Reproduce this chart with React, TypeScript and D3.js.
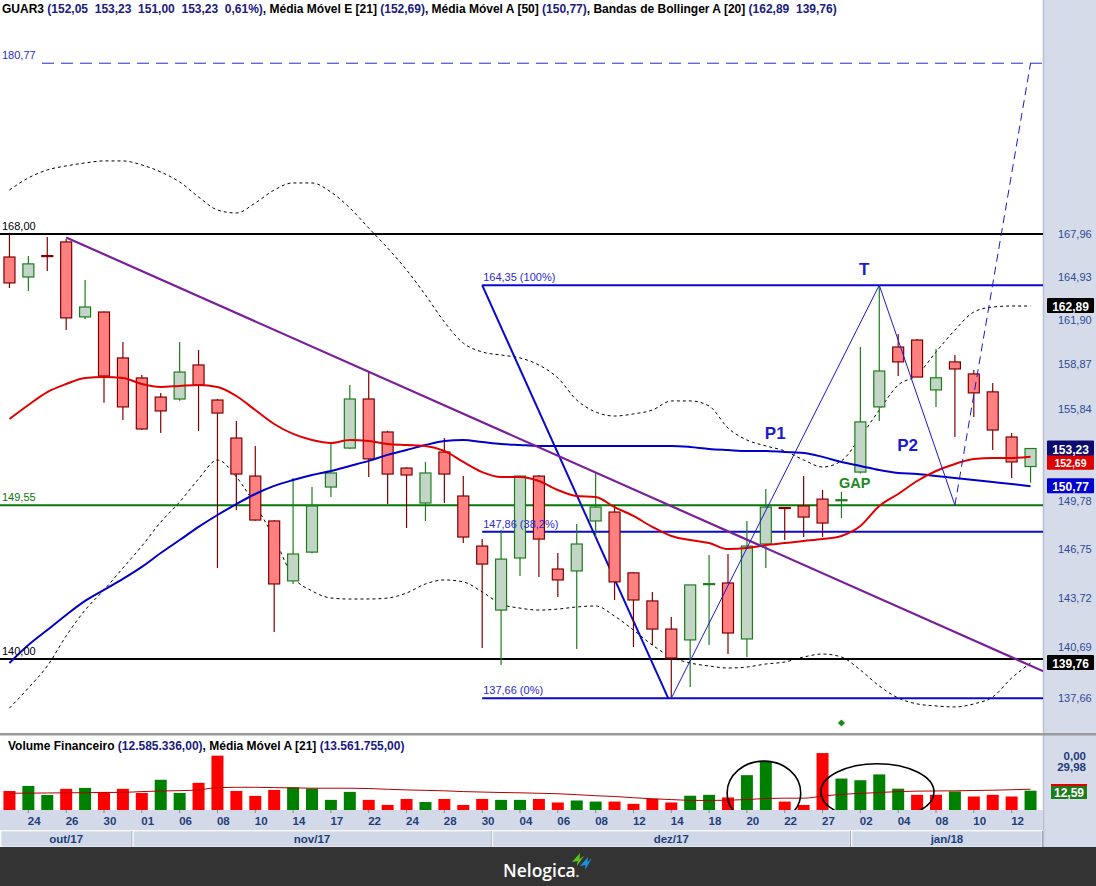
import React from 'react';
import * as d3 from 'd3';

// ---------------- DATA ----------------
const dates = [
  '23/10','24/10','25/10','26/10','27/10','30/10','31/10',
  '01/11','03/11','06/11','07/11','08/11','09/11','10/11','13/11','14/11','16/11','17/11','21/11','22/11','23/11','24/11','27/11','28/11','29/11','30/11',
  '01/12','04/12','05/12','06/12','07/12','08/12','11/12','12/12','13/12','14/12','15/12','18/12','19/12','20/12','21/12','22/12','26/12','27/12','28/12',
  '02/01','03/01','04/01','05/01','08/01','09/01','10/01','11/01','12/01','15/01'
];
const months = ['out/17', 'nov/17', 'dez/17', 'jan/18'];

const open = [166.35,164.93,166.45,167.43,162.13,162.47,159.30,157.94,156.65,156.52,158.82,156.45,153.92,151.43,148.54,144.77,146.57,150.72,153.26,156.52,154.32,151.95,149.69,153.00,150.14,146.95,142.97,146.20,151.43,145.51,145.39,148.54,149.11,145.27,143.53,141.81,141.15,144.55,144.64,141.21,147.08,149.40,149.50,149.94,149.85,151.69,155.99,160.05,160.53,157.13,159.03,158.21,157.00,153.99,152.05];
const high = [167.93,166.42,167.78,167.64,164.72,162.50,160.39,158.14,156.93,160.39,159.85,156.52,155.05,153.40,148.60,151.30,150.72,153.59,157.46,158.34,154.40,152.00,152.35,153.92,151.43,147.39,147.97,151.43,151.50,146.51,148.35,151.69,149.56,145.30,144.09,142.54,144.52,146.38,146.45,148.54,150.59,149.40,151.43,150.53,150.40,160.05,164.35,160.94,160.60,159.92,159.50,158.48,157.60,154.25,153.23];
const low = [164.15,163.94,165.36,161.22,161.99,156.26,155.12,154.45,154.25,156.40,154.39,145.57,149.24,148.55,141.63,144.58,146.50,150.07,153.20,151.37,149.62,148.09,148.54,149.69,147.14,140.66,139.64,145.08,145.02,143.78,140.60,147.52,143.59,140.72,140.84,137.74,138.33,140.84,140.30,140.12,145.57,147.33,147.52,147.52,148.73,151.60,155.05,158.07,158.00,155.99,153.99,155.32,153.13,151.30,151.00];
const close = [164.51,165.86,166.42,162.06,162.82,158.07,155.99,154.52,155.72,158.34,157.46,155.58,151.56,148.60,144.58,146.45,149.50,151.63,156.52,152.55,151.56,151.50,151.63,151.56,147.52,145.82,146.13,151.43,147.39,144.83,147.08,149.43,144.71,143.59,141.81,140.06,144.52,144.60,141.57,146.95,149.43,149.37,148.79,148.41,149.90,154.99,158.41,159.03,158.00,157.95,158.55,156.93,154.45,152.35,153.23];

const ema21 = [155.18,156.12,156.99,157.53,157.94,158.00,157.94,157.53,157.33,157.40,157.46,157.33,156.72,155.78,154.85,154.19,153.79,153.59,153.79,153.72,153.53,153.46,153.40,153.07,152.35,151.69,151.37,151.37,151.11,150.53,150.14,150.07,149.43,148.86,148.16,147.59,147.33,147.14,146.76,146.83,147.01,147.14,147.27,147.39,147.59,148.22,149.50,150.27,151.11,151.76,152.22,152.55,152.61,152.61,152.69];
const sma50 = [139.76,140.84,141.75,142.67,143.53,144.21,144.89,145.64,146.51,147.33,148.16,148.92,149.62,150.27,150.79,151.17,151.50,151.76,152.09,152.42,152.81,153.13,153.46,153.72,153.79,153.66,153.53,153.46,153.40,153.40,153.40,153.40,153.40,153.40,153.40,153.40,153.33,153.20,153.13,153.07,153.07,153.00,152.94,152.68,152.35,152.09,151.82,151.63,151.56,151.43,151.30,151.17,151.04,150.91,150.77];
const bbUpper = [171.20,172.09,172.68,172.98,173.20,173.35,173.35,173.05,172.53,171.79,170.69,169.74,169.52,170.25,171.20,171.72,171.72,171.05,169.89,168.43,166.99,165.43,163.66,161.78,160.32,159.71,159.50,159.30,158.82,157.94,156.45,155.65,155.38,155.52,155.78,156.39,156.39,156.05,154.58,153.79,153.40,153.07,152.48,152.02,152.42,153.99,155.78,157.46,158.14,159.71,161.22,162.47,162.82,162.89,162.89];
const bbLower = [137.08,138.27,139.58,141.39,142.97,144.21,145.57,146.95,148.47,149.75,151.24,152.48,151.37,149.56,147.46,145.02,144.15,143.71,143.65,143.65,143.71,144.02,144.58,144.83,144.71,144.09,143.34,143.09,142.97,143.03,143.16,143.22,142.60,141.75,140.84,140.12,139.76,139.58,139.46,139.52,139.70,139.82,140.12,140.30,140.12,139.34,138.39,137.68,137.33,137.21,137.15,137.33,137.74,138.86,139.76];

// volume in millions (R$)
const volume = [12.4,15.7,9.8,13.8,14.4,11.8,13.8,11.1,19.7,11.1,17.7,35.4,12.4,9.2,13.1,14.8,14.0,6.6,11.8,6.6,3.3,7.2,5.2,7.2,3.3,7.2,6.6,6.6,7.2,4.9,6.2,5.5,5.5,4.0,7.3,4.9,9.3,9.9,8.2,22.7,32.0,5.5,3.3,37.1,20.5,19.4,23.2,13.9,9.9,9.9,12.1,8.8,9.9,8.8,12.59];
const volumeMA21 = [10.9,11.0,11.1,11.2,11.3,11.4,11.5,12.0,12.4,12.6,13.1,14.6,14.8,14.8,14.6,14.4,14.2,14.2,14.2,14.0,13.5,13.1,12.8,12.5,12.0,11.7,11.4,11.2,10.9,10.6,10.0,9.3,8.8,8.0,7.3,6.8,6.3,6.2,6.4,6.8,7.5,7.7,7.7,9.0,10.2,10.8,11.4,12.0,12.3,12.4,12.5,12.7,12.9,13.2,13.56];

const priceTicks = [137.66,140.69,143.72,146.75,149.78,155.84,158.87,161.90,164.93,167.96];

const levelValues = [168.0, 149.55, 140.0];
const levelLabels = ['168,00', '149,55', '140,00'];
const targetValue = 180.77;
const targetLabel = '180,77';

const fibStartIndex = 25;
const fibEndIndex = 35;
const fibValues = [164.35, 147.86, 137.66];
const fibLabels = ['164,35 (100%)', '147,86 (38,2%)', '137,66 (0%)'];

const trendIdx = [3, 55];
const trendVal = [167.75, 139.1];

const patternIdx = [35, 46, 50];
const patternVal = [137.66, 164.35, 149.55];
const projIdx = [50, 54];
const projVal = [149.55, 180.77];

const noteText = ['T', 'P1', 'P2', 'GAP'];
const noteIdx = [45.2, 40.5, 47.5, 44.7];
const noteVal = [165.5, 154.25, 153.46, 150.98];

const markerValues = [162.89, 152.69, 153.23, 150.77, 139.76];
const markerLabels = ['162,89', '152,69', '153,23', '150,77', '139,76'];

const header = [
  ['GUAR3 ', '(152,05  153,23  151,00  153,23  0,61%)'],
  [', Média Móvel E [21] ', '(152,69)'],
  [', Média Móvel A [50] ', '(150,77)'],
  [', Bandas de Bollinger A [20] ', '(162,89  139,76)'],
];
const volHeader = [
  ['Volume Financeiro ', '(12.585.336,00)'],
  [', Média Móvel A [21] ', '(13.561.755,00)'],
];

// ---------------- LAYOUT ----------------
const W = 1096, H = 886;
const PR = 1043;
const N = dates.length;

const x = d3.scaleLinear().domain([-0.5, N - 0.5]).range([0, 1040]);
const y = d3.scaleLog().domain([140, 168]).range([659, 234]);
const yv = d3.scaleLinear().domain([0, 29.98]).range([810, 764]);

const RED_FILL = '#ff8080', RED_STROKE = '#800000';
const GRN_FILL = '#c3d5c6', GRN_STROKE = '#1d7d1d';
const AX_BLUE = '#2c4a96';
const NAVY = '#1a1a80';
const FONT = '"Liberation Sans", Arial, sans-serif';

export default function App() {
  const idx = d3.range(N);
  const line = (vals: number[]) =>
    d3.line<number>().x((_, i) => x(i)).y((v) => y(v)).curve(d3.curveMonotoneX)(vals) || '';

  const volLine = d3.line<number>().x((_, i) => x(i)).y((v) => yv(v)).curve(d3.curveMonotoneX)(volumeMA21) || '';

  const monthStart: number[] = [];
  const monthEnd: number[] = [];
  let cur = '';
  dates.forEach((d, i) => {
    const m = d.slice(3);
    if (m !== cur) {
      if (monthStart.length) monthEnd.push(i - 1);
      monthStart.push(i);
      cur = m;
    }
  });
  monthEnd.push(N - 1);

  const trendPath = d3.line<number>().x((_, i) => x(trendIdx[i])).y((v) => y(v))(trendVal) || '';
  const patternPath = d3.line<number>().x((_, i) => x(patternIdx[i])).y((v) => y(v))(patternVal) || '';
  const projPath = d3.line<number>().x((_, i) => x(projIdx[i])).y((v) => y(v))(projVal) || '';

  return (
    <svg width={W} height={H} style={{ position: 'absolute', left: 0, top: 0, background: '#fff' }} fontFamily={FONT}>
      <defs>
        <clipPath id="mainClip"><rect x={0} y={18} width={PR} height={714} /></clipPath>
        <clipPath id="volClip"><rect x={0} y={737} width={PR} height={73} /></clipPath>
      </defs>
      <rect x={0} y={0} width={W} height={H} fill="#fff" />
      {/* right axis strip */}
      <rect x={PR} y={0} width={W - PR} height={848} fill="#d6dbe9" />
      <line x1={PR + 0.5} y1={0} x2={PR + 0.5} y2={848} stroke="#b8bfcf" strokeWidth={1.5} />

      {/* header */}
      <text x={2} y={13} fontSize={12} fontWeight="bold" style={{ whiteSpace: 'pre' }}>
        {header.map((h, i) => (
          <React.Fragment key={i}>
            <tspan fill="#000">{h[0]}</tspan>
            <tspan fill={NAVY}>{h[1]}</tspan>
          </React.Fragment>
        ))}
      </text>

      {/* main panel */}
      <g clipPath="url(#mainClip)">
        <line x1={42} x2={PR} y1={y(targetValue)} y2={y(targetValue)} stroke="#2a2ad0" strokeWidth={1} strokeDasharray="12,7" />
        <path d={line(bbUpper)} fill="none" stroke="#000" strokeWidth={1} strokeDasharray="3,3" />
        <path d={line(bbLower)} fill="none" stroke="#000" strokeWidth={1} strokeDasharray="3,3" />
        {levelValues.map((v, i) => (
          <line key={i} x1={0} x2={PR} y1={y(v)} y2={y(v)} stroke={i === 1 ? '#067806' : '#000'} strokeWidth={2} />
        ))}
        {fibValues.map((v, i) => (
          <line key={i} x1={x(fibStartIndex)} x2={PR} y1={y(v)} y2={y(v)} stroke="#0a0acc" strokeWidth={2} />
        ))}
        <line x1={x(fibStartIndex)} y1={y(fibValues[0])} x2={x(fibEndIndex) - 3} y2={y(fibValues[2])} stroke="#0a0acc" strokeWidth={2} />
        {idx.map((i) => {
          const up = close[i] > open[i];
          const c = x(i);
          const top = y(Math.max(open[i], close[i]));
          const bot = y(Math.min(open[i], close[i]));
          return (
            <g key={i}>
              <line x1={c} x2={c} y1={y(high[i])} y2={y(low[i])} stroke={up ? GRN_STROKE : RED_STROKE} strokeWidth={1.2} />
              <rect x={c - 5.5} y={top} width={11} height={Math.max(1, bot - top)}
                fill={up ? GRN_FILL : RED_FILL} stroke={up ? GRN_STROKE : RED_STROKE} strokeWidth={1.2} />
            </g>
          );
        })}
        <path d={line(sma50)} fill="none" stroke="#0000c8" strokeWidth={2} />
        <path d={line(ema21)} fill="none" stroke="#e00000" strokeWidth={2} />
        <path d={trendPath} fill="none" stroke="#7a1f9a" strokeWidth={2.2} />
        <path d={patternPath} fill="none" stroke="#1a1acc" strokeWidth={1} />
        <path d={projPath} fill="none" stroke="#1a1acc" strokeWidth={1} strokeDasharray="8,5" />
        <text x={2} y={y(targetValue) - 4} fontSize={11} fill="#2a2ad0">{targetLabel}</text>
        {levelValues.map((v, i) => (
          <text key={i} x={2} y={y(v) - 4} fontSize={11} fill={i === 1 ? '#067806' : '#000'}>{levelLabels[i]}</text>
        ))}
        {fibValues.map((v, i) => (
          <text key={i} x={x(fibStartIndex) + 1} y={y(v) - 4} fontSize={11} fill="#2a2ad0">{fibLabels[i]}</text>
        ))}
        {noteText.map((t, i) => (
          <text key={i} x={x(noteIdx[i])} y={y(noteVal[i])} dy="0.36em" textAnchor="middle"
            fontSize={t === 'GAP' ? 14.5 : 17} fontWeight="bold" fill={t === 'GAP' ? '#1c8a1c' : '#1a1ad0'}>{t}</text>
        ))}
        <rect x={x(44) - 2.5} y={y(136.21) - 2.5} width={5} height={5} fill="#168a16" transform={`rotate(45 ${x(44)} ${y(136.21)})`} />
      </g>

      {/* right price axis */}
      {priceTicks.map((v, i) => (
        <text key={i} x={1058} y={y(v)} dy="0.35em" fontSize={11} fill={AX_BLUE}>{v.toFixed(2).replace('.', ',')}</text>
      ))}
      {markerValues.map((v, i) => {
        const bg = ['#000', '#e00000', '#0a0a70', '#0000d0', '#000'][i];
        const off = i === 1 ? 6 : 0;
        return (
          <g key={i}>
            <rect x={1047} y={y(v) - 8 + off} width={47} height={15} fill={bg} rx={1} />
            <text x={1070.5} y={y(v) + off + 1} dy="0.35em" textAnchor="middle" fontSize={i === 1 ? 10.5 : 12} fontWeight="bold" fill="#fff">{markerLabels[i]}</text>
          </g>
        );
      })}

      {/* panel separator */}
      <rect x={0} y={733} width={W} height={2.5} fill="#9a9a9a" />

      {/* volume panel */}
      <text x={8} y={750} fontSize={12} fontWeight="bold" style={{ whiteSpace: 'pre' }}>
        {volHeader.map((h, i) => (
          <React.Fragment key={i}>
            <tspan fill="#000">{h[0]}</tspan>
            <tspan fill={NAVY}>{h[1]}</tspan>
          </React.Fragment>
        ))}
      </text>
      <g clipPath="url(#volClip)">
        {idx.map((i) => {
          const up = i > 0 && close[i] > close[i - 1];
          return (
            <rect key={i} x={x(i) - 6} y={yv(volume[i])} width={12} height={yv(0) - yv(volume[i])} fill={up ? '#008000' : '#ff0000'} />
          );
        })}
        <path d={volLine} fill="none" stroke="#b00000" strokeWidth={1} />
        <ellipse cx={x(39.9)} cy={792.9} rx={36.8} ry={31.8} fill="none" stroke="#000" strokeWidth={1.6} />
        <ellipse cx={x(45.9)} cy={791.9} rx={56.6} ry={28.2} fill="none" stroke="#000" strokeWidth={1.6} />
      </g>
      <text x={1086} y={756} dy="0.35em" textAnchor="end" fontSize={11.5} fontWeight="bold" fill="#1f3a7a">0,00</text>
      <text x={1086} y={yv(29.98) + 3} dy="0.35em" textAnchor="end" fontSize={11.5} fontWeight="bold" fill="#1f3a7a">29,98</text>
      <rect x={1051} y={784} width={36} height={2.5} fill="#e00000" />
      <rect x={1051} y={786} width={36} height={13} fill="#1d7d1d" />
      <text x={1069} y={792.5} dy="0.35em" textAnchor="middle" fontSize={12} fontWeight="bold" fill="#fff">12,59</text>

      {/* date axis */}
      <rect x={0} y={810} width={PR} height={20} fill="#d3d9e8" />
      {idx.filter((i) => i % 2 === 1).map((i) => (
        <g key={i}>
          <line x1={x(i)} x2={x(i)} y1={810} y2={813} stroke="#7f8aa3" />
          <text x={x(i) - 0.5} y={825} fontSize={11.5} fontWeight="bold" fill="#1f3f7a">{dates[i].slice(0, 2)}</text>
        </g>
      ))}
      {months.map((m, k) => {
        const x0 = k === 0 ? 0 : x(monthStart[k] - 0.5);
        const x1 = k === months.length - 1 ? PR : x(monthEnd[k] + 0.5);
        return (
          <g key={m}>
            <rect x={x0 + 1} y={831} width={x1 - x0 - 2} height={16} fill="#d0d7e7" stroke="#f2f4f8" strokeWidth={1} />
            <line x1={x1 - 0.5} x2={x1 - 0.5} y1={831} y2={847} stroke="#9aa3b8" />
            <text x={(x0 + x1) / 2} y={843} textAnchor="middle" fontSize={11.5} fontWeight="bold" fill="#1f3f7a">{m}</text>
          </g>
        );
      })}

      {/* footer */}
      <rect x={0} y={847} width={W} height={H - 847} fill="#333333" />
      <text x={503} y={877} fontSize={17.5} fontWeight={600} fontFamily='"Open Sans", sans-serif' fill="#fff">Nelogica</text>
      <circle cx={577.5} cy={876} r={1.3} fill="#bbb" />
      <path d="M572,862 L580,853 L579.5,859 L584,856 L577,866 L577.5,861 Z" fill="#58c322" />
      <path d="M580,866 L588,857 L587.5,862 L592,858 L585,870 L585.5,865 Z" fill="#1b8fe0" />
    </svg>
  );
}
